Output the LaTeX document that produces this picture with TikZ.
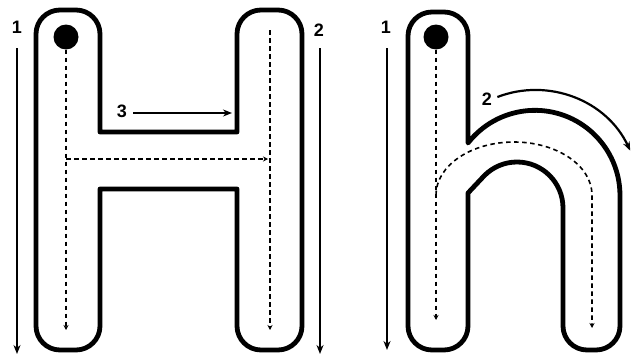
\documentclass[tikz,border=0pt]{standalone}
\usepackage{fontspec}
\setmainfont{Liberation Sans}
\usetikzlibrary{arrows.meta}

\begin{document}
\begin{tikzpicture}[x=1pt,y=-1pt,>=Stealth,
    outline/.style={line width=4.8pt,line join=round},
    guide/.style={line width=1.6pt,dash pattern=on 4.5pt off 3.5pt,-{Stealth[length=5pt,width=5pt]}},
    stroke/.style={line width=2.2pt,-{Stealth[length=9pt,width=7pt]}},
    num/.style={font=\fontsize{18}{18}\selectfont\bfseries,inner sep=0pt},
    startdot/.style={circle,fill=black,minimum width=25pt,minimum height=22pt,inner sep=0pt}]
  \useasboundingbox (0,0) rectangle (632,356);

  % letter H
  \draw[outline] (36,34) arc(180:270:24) -- (76,10) arc(270:360:24) -- (100,132) -- (237,132)
    -- (237,34) arc(180:270:24) -- (278,10) arc(270:360:24) -- (302,326) arc(0:90:24)
    -- (261,350) arc(90:180:24) -- (237,189) -- (100,189) -- (100,326) arc(0:90:24)
    -- (60,350) arc(90:180:24) -- cycle;
  \node[startdot] (dotH) at (66,37) {};
  \coordinate (Hleft) at (66,330);
  \coordinate (Hrtop) at (270,30);
  \coordinate (Hright) at (270,330);
  \coordinate (Hbar) at (66,159);
  \coordinate (Hbarend) at (268,159);
  \draw[guide] (dotH) -- (Hleft);
  \draw[guide] (Hrtop) -- (Hright);
  \draw[guide] (Hbar) -- (Hbarend);

  % letter h
  \draw[outline] (408,36) arc(180:270:24) -- (444,12) arc(270:360:24) -- (468,143)
    arc(218:360:85) -- (620,326) arc(0:90:24) -- (587,350) arc(90:180:24)
    -- (563,208) arc(360:225:46) -- (468,193) -- (468,326) arc(0:90:24)
    -- (432,350) arc(90:180:24) -- cycle;
  \node[startdot] (doth) at (436,37) {};
  \coordinate (hleft) at (436,320);
  \coordinate (hjoin) at (436,195);
  \coordinate (hright) at (592,328);
  \draw[guide] (doth) -- (hleft);
  \draw[guide] (hjoin) arc[start angle=180,end angle=360,x radius=78,y radius=53] -- (hright);

  % stroke order
  \node[num] (oneH) at (17,27) {1};
  \node[num] (twoH) at (319,30) {2};
  \node[num] (threeH) at (122,111) {3};
  \node[num] (oneh) at (386,27) {1};
  \node[num] (twoh) at (487,99) {2};
  \coordinate (oneHs) at (17,48);
  \coordinate (oneHe) at (17,354);
  \coordinate (twoHs) at (320,48);
  \coordinate (twoHe) at (320,354);
  \coordinate (threeHs) at (133,113);
  \coordinate (threeHe) at (232,113);
  \coordinate (onehs) at (387,48);
  \coordinate (onehe) at (387,350);
  \coordinate (twohs) at (497.4,97);
  \draw[stroke] (oneHs) -- (oneHe);
  \draw[stroke] (twoHs) -- (twoHe);
  \draw[stroke] (threeHs) -- (threeHe);
  \draw[stroke] (onehs) -- (onehe);
  \draw[stroke] (twohs) arc[start angle=249,end angle=335,radius=105];
\end{tikzpicture}
\end{document}
